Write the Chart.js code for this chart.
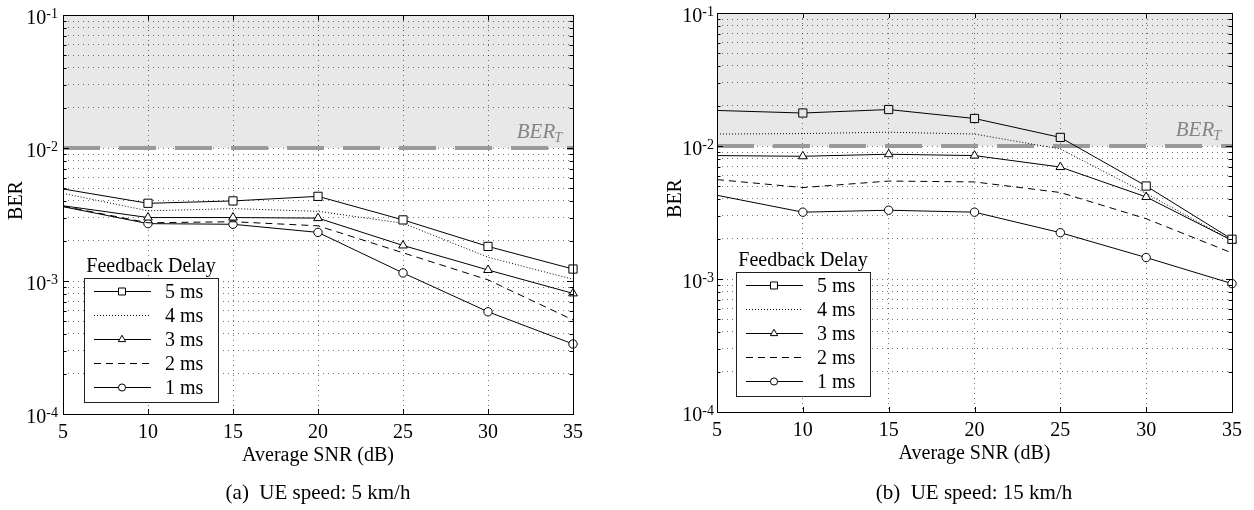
<!DOCTYPE html>
<html>
<head>
<meta charset="utf-8">
<script src="https://cdn.jsdelivr.net/npm/chart.js@4/dist/chart.umd.min.js"></script>
<style>
html,body{margin:0;padding:0;background:#fff;}
#wrap{position:relative;width:1254px;height:510px;overflow:hidden;background:#fff;}
canvas{position:absolute;top:0;}
.cap{position:absolute;top:480px;width:400px;text-align:center;font-family:'Liberation Serif','Times New Roman',serif;font-size:21px;line-height:24px;color:#000;white-space:pre;}
</style>
</head>
<body>
<div id="wrap">
  <canvas id="cA" width="627" height="510" style="left:0px"></canvas>
  <canvas id="cB" width="627" height="510" style="left:627px"></canvas>
  <div class="cap" id="capA" style="left:118px"></div>
  <div class="cap" id="capB" style="left:774px"></div>
</div>
<script>
// ---------------- data ----------------
const SNR = [5, 10, 15, 20, 25, 30, 35];
const DELAYS = ['5 ms', '4 ms', '3 ms', '2 ms', '1 ms'];
const BER_T = 0.01;

// (a) UE speed 5 km/h
const A_5MS = [4.92e-3, 3.84e-3, 4.00e-3, 4.33e-3, 2.88e-3, 1.82e-3, 1.23e-3];
const A_4MS = [4.56e-3, 3.37e-3, 3.50e-3, 3.34e-3, 2.72e-3, 1.51e-3, 1.03e-3];
const A_3MS = [3.68e-3, 3.00e-3, 3.00e-3, 2.97e-3, 1.85e-3, 1.21e-3, 8.07e-4];
const A_2MS = [3.65e-3, 2.74e-3, 2.79e-3, 2.60e-3, 1.63e-3, 1.02e-3, 5.10e-4];
const A_1MS = [3.62e-3, 2.70e-3, 2.67e-3, 2.32e-3, 1.15e-3, 5.87e-4, 3.36e-4];

// (b) UE speed 15 km/h
const B_5MS = [1.85e-2, 1.77e-2, 1.88e-2, 1.61e-2, 1.16e-2, 5.00e-3, 1.99e-3];
const B_4MS = [1.23e-2, 1.24e-2, 1.27e-2, 1.23e-2, 9.50e-3, 4.40e-3, 1.95e-3];
const B_3MS = [8.47e-3, 8.37e-3, 8.67e-3, 8.47e-3, 6.95e-3, 4.14e-3, 1.95e-3];
const B_2MS = [5.59e-3, 4.87e-3, 5.45e-3, 5.37e-3, 4.47e-3, 2.84e-3, 1.57e-3];
const B_1MS = [4.26e-3, 3.18e-3, 3.29e-3, 3.18e-3, 2.23e-3, 1.45e-3, 9.23e-4];

const X_TICKS = [5, 10, 15, 20, 25, 30, 35];
const Y_DECADES = [1e-4, 1e-3, 1e-2, 1e-1];
const Y_EXPONENTS = ['-4', '-3', '-2', '-1'];
const X_TITLE = 'Average SNR (dB)';
const Y_TITLE = 'BER';
const THRESH_LABEL = 'BER';
const THRESH_SUB = 'T';
const LEGEND_TITLE = 'Feedback Delay';
const CAPTION_A = '(a)  UE speed: 5 km/h';
const CAPTION_B = '(b)  UE speed: 15 km/h';

// ---------------- styles ----------------
const FONT = "'Liberation Serif', 'Times New Roman', serif";
const SHADE = '#e8e8e8';
const GRID = 'rgba(0,0,0,0.55)';
const STYLES = [
  { dash: [],     pointStyle: 'rect',     r: 5.8 },
  { dash: [1, 2], pointStyle: null,       r: 0 },
  { dash: [],     pointStyle: 'triangle', r: 5 },
  { dash: [7, 5], pointStyle: null,       r: 0 },
  { dash: [],     pointStyle: 'circle',   r: 4.2 }
];

Chart.defaults.font.family = FONT;

function makeDatasets(series) {
  const ds = series.map((vals, i) => {
    const st = STYLES[i];
    return {
      label: DELAYS[i],
      data: SNR.map((x, j) => ({ x: x, y: vals[j] })),
      borderColor: '#000',
      borderWidth: 1,
      borderDash: st.dash,
      pointStyle: st.pointStyle || 'circle',
      markerStyle: st.pointStyle,
      markerR: st.r,
      pointRadius: c => (st.r && c.dataIndex > 0) ? st.r : 0,
      pointHoverRadius: c => (st.r && c.dataIndex > 0) ? st.r : 0,
      pointBorderColor: '#000',
      pointBorderWidth: 1,
      pointBackgroundColor: c => (c.raw && c.raw.y >= BER_T) ? SHADE : '#fff',
      fill: false,
      tension: 0,
      clip: false,
      order: i
    };
  });
  ds.push({
    label: 'threshold',
    isThreshold: true,
    data: [{ x: SNR[0], y: BER_T }, { x: SNR[SNR.length - 1], y: BER_T }],
    borderColor: '#9a9a9a',
    borderWidth: 4,
    borderDash: [37, 19],
    borderCapStyle: 'butt',
    pointRadius: 0,
    pointHoverRadius: 0,
    fill: false,
    order: 99
  });
  return ds;
}

function drawMarker(ctx, style, x, y, r, fill) {
  ctx.beginPath();
  if (style === 'rect') {
    const s = r * Math.SQRT1_2;
    ctx.rect(x - s, y - s, 2 * s, 2 * s);
  } else if (style === 'triangle') {
    const a = 2 * Math.PI / 3;
    ctx.moveTo(x, y - r);
    ctx.lineTo(x + r * Math.sin(a), y - r * Math.cos(a));
    ctx.lineTo(x + r * Math.sin(2 * a), y - r * Math.cos(2 * a));
    ctx.closePath();
  } else {
    ctx.arc(x, y, r, 0, 2 * Math.PI);
  }
  ctx.fillStyle = fill;
  ctx.fill();
  ctx.setLineDash([]);
  ctx.lineWidth = 1;
  ctx.strokeStyle = '#000';
  ctx.stroke();
}

function line(ctx, x1, y1, x2, y2) {
  ctx.beginPath(); ctx.moveTo(x1, y1); ctx.lineTo(x2, y2); ctx.stroke();
}

const matlabPlugin = {
  id: 'matlab',
  beforeDraw(chart) {
    const a = chart.chartArea, ctx = chart.ctx, y = chart.scales.y;
    const yT = y.getPixelForValue(BER_T);
    ctx.save();
    ctx.fillStyle = SHADE;
    ctx.fillRect(a.left, a.top, a.right - a.left, yT - a.top);
    ctx.restore();
  },
  afterDraw(chart, args, opts) {
    const a = chart.chartArea, ctx = chart.ctx;
    const x = chart.scales.x, y = chart.scales.y;
    ctx.save();
    // inward ticks
    ctx.strokeStyle = '#000';
    ctx.lineWidth = 1;
    ctx.setLineDash([]);
    X_TICKS.forEach(v => {
      const px = Math.round(x.getPixelForValue(v)) + 0.5;
      line(ctx, px, a.bottom, px, a.bottom - 5);
      line(ctx, px, a.top, px, a.top + 5);
    });
    y.ticks.forEach(t => {
      const py = Math.round(y.getPixelForValue(t.value)) + 0.5;
      const isDec = Y_DECADES.some(d => Math.abs(d - t.value) / d < 1e-6);
      const len = isDec ? 6 : 3.5;
      line(ctx, a.left, py, a.left + len, py);
      line(ctx, a.right, py, a.right - len, py);
    });
    // box
    ctx.strokeRect(Math.round(a.left) + 0.5, Math.round(a.top) + 0.5,
                   Math.round(a.right - a.left), Math.round(a.bottom - a.top));

    // y tick labels 10^n
    ctx.fillStyle = '#000';
    ctx.textBaseline = 'middle';
    Y_DECADES.forEach((d, i) => {
      const py = y.getPixelForValue(d);
      ctx.font = '14px ' + FONT;
      const ew = ctx.measureText(Y_EXPONENTS[i]).width;
      const eRight = a.left - opts.yLabelGap;
      ctx.textAlign = 'right';
      ctx.fillText(Y_EXPONENTS[i], eRight, py - 0.5);
      ctx.font = '20px ' + FONT;
      ctx.fillText('10', eRight - ew, py + 3.5);
    });

    // axis titles
    ctx.font = '20px ' + FONT;
    ctx.textAlign = 'center';
    ctx.textBaseline = 'middle';
    ctx.fillText(X_TITLE, (a.left + a.right) / 2, a.bottom + 42);
    ctx.save();
    ctx.translate(opts.yTitleX, (a.top + a.bottom) / 2 - 14);
    ctx.rotate(-Math.PI / 2);
    ctx.fillText(Y_TITLE, 0, 0);
    ctx.restore();

    // threshold label
    const yT = y.getPixelForValue(BER_T);
    ctx.fillStyle = '#858585';
    ctx.textBaseline = 'alphabetic';
    ctx.textAlign = 'left';
    ctx.font = 'italic 14px ' + FONT;
    const sw = ctx.measureText(THRESH_SUB).width;
    ctx.font = 'italic 21px ' + FONT;
    const mw = ctx.measureText(THRESH_LABEL).width;
    const lx = a.right - 10 - sw - mw;
    ctx.fillText(THRESH_LABEL, lx, yT - 10);
    ctx.font = 'italic 14px ' + FONT;
    ctx.fillText(THRESH_SUB, lx + mw - 1, yT - 6);

    // legend
    const L = opts.legend;
    const bx = a.left + L.dx, bb = a.bottom - L.dy;
    const bw = 134, bh = 124, by = bb - bh;
    ctx.fillStyle = '#fff';
    ctx.fillRect(bx, by, bw, bh);
    ctx.strokeStyle = '#222';
    ctx.lineWidth = 1;
    ctx.setLineDash([]);
    ctx.strokeRect(Math.round(bx) + 0.5, Math.round(by) + 0.5, bw, bh);
    ctx.fillStyle = '#000';
    ctx.font = '20px ' + FONT;
    ctx.textAlign = 'center';
    ctx.textBaseline = 'middle';
    ctx.fillText(LEGEND_TITLE, bx + bw / 2, by - 11);
    const items = chart.data.datasets.filter(d => !d.isThreshold);
    items.forEach((d, i) => {
      const ry = Math.round(by + 13 + i * 24) + 0.5;
      ctx.strokeStyle = '#000';
      ctx.lineWidth = 1;
      ctx.setLineDash(d.borderDash || []);
      line(ctx, bx + 10, ry, bx + 67, ry);
      if (d.markerStyle) drawMarker(ctx, d.markerStyle, bx + 38, ry, d.markerR * 0.85, '#fff');
      ctx.fillStyle = '#000';
      ctx.font = '20px ' + FONT;
      ctx.textAlign = 'left';
      ctx.textBaseline = 'middle';
      ctx.fillText(d.label, bx + 81, ry + 1);
    });
    ctx.restore();
  }
};

function makeChart(id, series, cfg) {
  return new Chart(document.getElementById(id), {
    type: 'line',
    data: { datasets: makeDatasets(series) },
    plugins: [matlabPlugin],
    options: {
      responsive: false,
      animation: false,
      events: [],
      layout: { padding: { left: 0, top: cfg.top, right: cfg.right, bottom: 0 } },
      plugins: {
        legend: { display: false },
        tooltip: { enabled: false },
        matlab: { yTitleX: cfg.yTitleX, yLabelGap: cfg.yLabelGap, legend: cfg.legend }
      },
      scales: {
        x: {
          type: 'linear', min: SNR[0], max: SNR[SNR.length - 1],
          afterBuildTicks: s => { s.ticks = X_TICKS.map(v => ({ value: v })); },
          afterFit: s => { s.height = cfg.xh; },
          grid: { color: GRID, lineWidth: 1, drawTicks: false },
          border: { display: false, dash: [1, 4] },
          ticks: { color: '#000', font: { size: 20, family: FONT }, padding: 7, maxRotation: 0, autoSkip: false }
        },
        y: {
          type: 'logarithmic', min: Y_DECADES[0], max: Y_DECADES[Y_DECADES.length - 1],
          afterBuildTicks: s => {
            const t = [];
            Y_DECADES.slice(0, -1).forEach(d => { for (let k = 1; k < 10; k++) t.push({ value: k * d }); });
            t.push({ value: Y_DECADES[Y_DECADES.length - 1] });
            s.ticks = t;
          },
          afterFit: s => { s.width = cfg.yw; },
          grid: { color: GRID, lineWidth: 1, drawTicks: false },
          border: { display: false, dash: [1, 4] },
          ticks: { display: false, autoSkip: false }
        }
      }
    }
  });
}

document.getElementById('capA').textContent = CAPTION_A;
document.getElementById('capB').textContent = CAPTION_B;

makeChart('cA', [A_5MS, A_4MS, A_3MS, A_2MS, A_1MS],
  { top: 15, right: 54, yw: 63, xh: 96, yTitleX: 17, yLabelGap: 5, legend: { dx: 21, dy: 12 } });
makeChart('cB', [B_5MS, B_4MS, B_3MS, B_2MS, B_1MS],
  { top: 13, right: 22, yw: 90, xh: 98, yTitleX: 49, yLabelGap: 3, legend: { dx: 19, dy: 16 } });
</script>
</body>
</html>
